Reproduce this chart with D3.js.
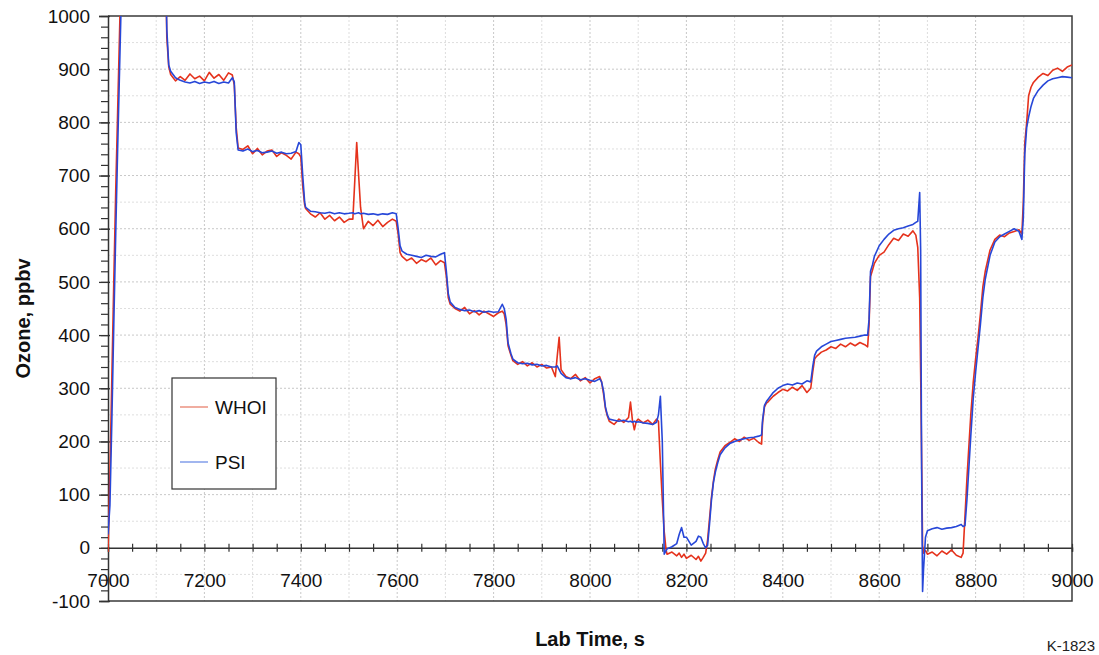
<!DOCTYPE html>
<html>
<head>
<meta charset="utf-8">
<script src="https://cdn.jsdelivr.net/npm/d3@7"></script>
<style>
  html, body { margin: 0; padding: 0; background: #fff; }
  svg { display: block; font-family: "Liberation Sans", Arial, Helvetica, sans-serif; }
</style>
</head>
<body>
<svg id="chart" width="1099" height="655"></svg>
<script>
// ---- Data ----
const labTime = [
  7000,7004,7008,7012,7016,7020,7024,7028,7060,7100,7118,7122,7126,
  7130,7140,7150,7160,7170,7180,7190,7200,7210,7220,7230,7240,7250,7258,
  7262,7266,7270,7280,7290,7300,7310,7320,7330,7340,7350,7360,7370,7380,7390,7396,7400,7404,7408,
  7410,7420,7430,7440,7450,7460,7470,7480,7490,7500,7508,7512,7516,7520,7524,7530,7540,7550,7560,7570,7580,7590,7598,
  7602,7606,7610,7620,7630,7640,7650,7660,7670,7680,7690,7698,
  7702,7706,7710,7720,7730,7740,7750,7760,7770,7780,7790,7800,7810,7818,7822,
  7826,7830,7836,7840,7850,7860,7870,7880,7890,7900,7910,7920,7928,7932,7936,7940,7950,7960,7970,7980,7990,8000,8010,8020,8024,
  8028,8032,8036,8040,8050,8060,8070,8080,8084,8088,8092,8096,8100,8110,8120,8130,8138,8142,8146,8150,
  8154,8158,8160,8170,8180,8185,8190,8195,8200,8210,8220,8225,8230,8235,8240,
  8244,8248,8252,8256,8260,8265,8270,8280,8290,8300,8310,8320,8330,8340,8350,8356,
  8358,8362,8366,8370,8380,8390,8400,8410,8420,8430,8440,8450,8458,
  8462,8466,8470,8480,8490,8500,8510,8520,8530,8540,8550,8560,8570,8576,
  8579,8582,8586,8590,8600,8610,8620,8630,8640,8650,8660,8670,8676,8680,8684,8686,8688,8690,8692,8696,8700,
  8710,8720,8730,8740,8750,8760,8770,8774,
  8778,8782,8786,8790,8795,8800,8805,8810,8815,8820,8830,8840,8850,8860,8870,8880,8890,8896,
  8899,8902,8906,8910,8915,8920,8930,8940,8950,8960,8970,8980,8990,9000
];
const whoi = [
  -8,140,320,500,670,820,970,1120,1250,1250,1180,960,905,
  890,878,886,879,891,882,887,878,894,883,890,879,893,889,
  870,790,752,749,756,741,751,739,746,748,736,743,738,731,744,741,735,680,645,
  638,628,622,630,618,625,615,622,612,618,618,690,762,700,640,600,614,606,616,604,612,618,614,
  590,555,548,540,545,535,542,538,545,532,540,536,
  510,470,458,450,445,452,440,446,438,445,440,435,442,445,440,
  420,380,362,352,345,350,342,348,340,345,338,340,322,360,396,335,322,318,326,314,320,310,318,322,312,
  290,262,248,238,232,242,236,245,274,240,222,238,242,235,240,232,242,238,160,90,
  30,-5,-12,-8,-15,-10,-18,-12,-20,-14,-22,-16,-25,-18,-10,
  15,55,95,125,148,165,180,192,198,205,200,208,202,206,198,195,
  235,265,272,275,285,292,298,295,302,296,305,292,300,
  330,355,360,368,372,378,375,383,378,385,380,386,382,378,
  420,510,522,535,550,556,570,582,578,590,586,596,588,565,470,330,170,5,-10,-5,-12,
  -8,-15,-6,-12,-4,-14,-18,-10,
  60,130,190,250,310,355,395,440,490,520,560,580,588,585,592,595,598,590,
  650,760,800,850,866,875,885,892,888,898,902,896,904,908
];
const psi = [
  25,80,240,420,590,750,900,1050,1250,1250,1180,975,908,
  896,884,879,876,874,877,873,876,874,877,873,876,874,884,
  876,780,748,746,750,745,747,743,744,746,742,744,741,742,745,762,758,700,650,
  640,633,632,630,629,631,628,630,628,629,630,628,629,630,628,629,627,628,626,628,627,630,628,
  600,568,558,552,550,548,546,550,548,547,552,555,
  520,478,462,452,448,446,447,444,446,443,445,443,444,458,450,
  430,385,365,355,348,346,347,344,345,342,343,340,340,342,335,328,320,318,320,316,318,315,313,318,312,
  295,265,250,242,240,238,240,237,238,236,238,236,237,235,234,232,236,250,285,200,
  -12,-5,-2,2,8,25,38,20,20,5,12,22,20,8,0,
  5,45,90,122,142,160,175,188,196,200,203,205,207,208,210,212,
  240,268,275,280,292,300,305,308,306,310,308,314,312,
  340,362,370,378,383,388,390,392,394,395,396,398,400,400,
  430,520,532,548,568,580,590,597,600,602,605,608,612,614,668,560,150,-82,-40,20,32,
  36,38,35,37,38,40,44,40,
  42,90,150,210,280,330,375,420,470,505,550,575,585,590,595,600,595,580,
  620,740,790,810,830,845,860,870,878,882,884,886,885,884
];
const seriesNames = ["WHOI", "PSI"];
const xTickLabels = [7000, 7200, 7400, 7600, 7800, 8000, 8200, 8400, 8600, 8800, 9000];
const yTickLabels = [-100, 0, 100, 200, 300, 400, 500, 600, 700, 800, 900, 1000];

// ---- Layout ----
const svg = d3.select("#chart");
const pL = 108, pR = 1072, pT = 16, pB = 601;
const x = d3.scaleLinear().domain([7000, 9000]).range([pL, pR]);
const y = d3.scaleLinear().domain([-100, 1000]).range([pB, pT]);
const colors = { WHOI: "#e5321c", PSI: "#2747d8" };
const legendColors = { WHOI: "#e8806c", PSI: "#6f8fe6" };
const plainFmt = d => String(d);

// grid
const gGrid = svg.append("g");
gGrid.selectAll("line.vg").data(d3.range(7100, 9000, 100)).join("line")
  .attr("x1", d => x(d)).attr("x2", d => x(d)).attr("y1", pT).attr("y2", pB)
  .attr("stroke", d => d % 200 === 0 ? "#c8c8c8" : "#dddddd")
  .attr("stroke-width", 1).attr("stroke-dasharray", "2,2");
gGrid.selectAll("line.hg").data(d3.range(-50, 1000, 50).filter(v => v !== 0)).join("line")
  .attr("x1", pL).attr("x2", pR).attr("y1", d => y(d)).attr("y2", d => y(d))
  .attr("stroke", d => d % 100 === 0 ? "#c8c8c8" : "#dedede")
  .attr("stroke-width", 1).attr("stroke-dasharray", "2,2");

// border (top, right, bottom)
svg.append("path")
  .attr("d", `M${pL},${pT}H${pR}V${pB}H${pL}`)
  .attr("fill", "none").attr("stroke", "#3a3a3a").attr("stroke-width", 1.5);

// y axis minor ticks
const yMinor = svg.append("g").attr("transform", `translate(${pL},0)`)
  .call(d3.axisLeft(y).tickValues(d3.range(-100, 1001, 20)).tickSize(7).tickFormat(""));
yMinor.select(".domain").remove();
yMinor.selectAll(".tick line").attr("x1", 1).attr("stroke", "#333").attr("stroke-width", 1.2);

// y axis major
const yAx = svg.append("g").attr("transform", `translate(${pL},0)`)
  .call(d3.axisLeft(y).tickValues(yTickLabels).tickSize(9).tickPadding(9).tickFormat(plainFmt));
yAx.select(".domain").attr("stroke", "#333").attr("stroke-width", 1.5);
yAx.selectAll(".tick line").attr("x1", 2).attr("stroke", "#333").attr("stroke-width", 1.3);
yAx.selectAll(".tick text").attr("font-size", 19).attr("fill", "#111")
  .attr("font-family", "'Liberation Sans', Arial, sans-serif");

// x axis along y=0
const xMinor = svg.append("g").attr("transform", `translate(0,${y(0)})`)
  .call(d3.axisBottom(x).tickValues(d3.range(7000, 9001, 50)).tickSize(4).tickFormat(""));
xMinor.select(".domain").attr("stroke", "#333").attr("stroke-width", 1.5);
xMinor.selectAll(".tick line").attr("y1", -4).attr("stroke", "#333").attr("stroke-width", 1.2);

const xAx = svg.append("g").attr("transform", `translate(0,${y(0)})`)
  .call(d3.axisBottom(x).tickValues(xTickLabels).tickSize(0).tickPadding(26).tickFormat(plainFmt));
xAx.select(".domain").remove();
xAx.selectAll(".tick text").attr("font-size", 19).attr("fill", "#111")
  .attr("font-family", "'Liberation Sans', Arial, sans-serif");

// clip
svg.append("defs").append("clipPath").attr("id", "plotclip")
  .append("rect").attr("x", pL).attr("y", pT).attr("width", pR - pL).attr("height", pB - pT);

const line = d3.line().x(d => x(d[0])).y(d => y(d[1]));
const seriesData = {
  WHOI: labTime.map((t, i) => [t, whoi[i]]),
  PSI: labTime.map((t, i) => [t, psi[i]])
};
const gLines = svg.append("g").attr("clip-path", "url(#plotclip)");
seriesNames.forEach(name => {
  gLines.append("path").datum(seriesData[name])
    .attr("d", line).attr("fill", "none")
    .attr("stroke", colors[name]).attr("stroke-width", 1.6)
    .attr("stroke-linejoin", "round");
});

// legend
const lg = svg.append("g");
lg.append("rect").attr("x", 172).attr("y", 378).attr("width", 104).attr("height", 111)
  .attr("fill", "#fff").attr("stroke", "#333").attr("stroke-width", 1.2);
seriesNames.forEach((name, i) => {
  const ly = 407 + i * 55;
  lg.append("line").attr("x1", 180).attr("x2", 208).attr("y1", ly).attr("y2", ly)
    .attr("stroke", legendColors[name]).attr("stroke-width", 1.3);
  lg.append("text").attr("x", 215).attr("y", ly + 7).attr("font-size", 19).attr("fill", "#111")
    .text(name);
});

// titles
svg.append("text").attr("transform", `translate(30,${(pT + pB) / 2 + 10}) rotate(-90)`)
  .attr("text-anchor", "middle").attr("font-size", 20).attr("font-weight", "bold").attr("fill", "#111")
  .text("Ozone, ppbv");
svg.append("text").attr("x", (pL + pR) / 2).attr("y", 646)
  .attr("text-anchor", "middle").attr("font-size", 20).attr("font-weight", "bold").attr("fill", "#111")
  .text("Lab Time, s");
svg.append("text").attr("x", 1095).attr("y", 651).attr("text-anchor", "end")
  .attr("font-size", 15).attr("fill", "#222").text("K-1823");
</script>
</body>
</html>
